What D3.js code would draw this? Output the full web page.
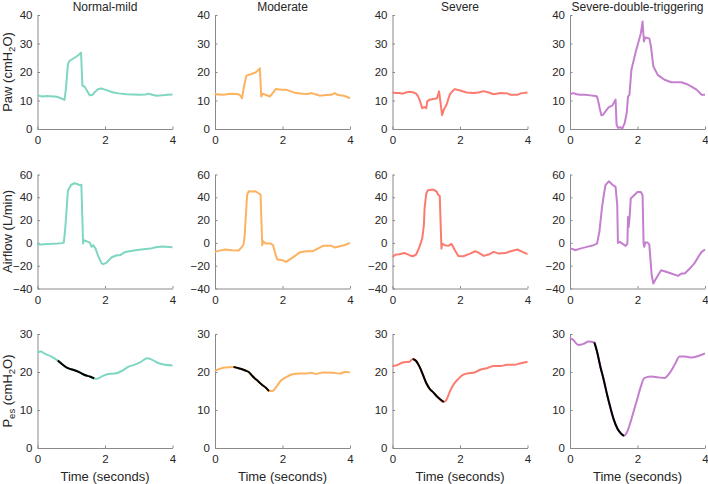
<!DOCTYPE html>
<html><head><meta charset="utf-8">
<script src="https://cdn.jsdelivr.net/npm/d3@7"></script>
<style>
body{margin:0;background:#fff;}
svg{display:block;font-family:"Liberation Sans",Arial,Helvetica,sans-serif;}
</style></head>
<body>
<svg id="chart" width="708" height="484"></svg>
<script>
const categories = ["Normal-mild","Moderate","Severe","Severe-double-triggering"];
const colors = ["#7fd6c3","#fdb260","#fb7b6f","#c57fcf"];
const xTicks = [0,2,4];
const pawTicks = [0,10,20,30,40];
const flowTicks = [-40,-20,0,20,40,60];
const pesTicks = [0,10,20,30];

const pawNormal = [[0,11.8],[0.08,11.6],[0.17,11.4],[0.27,11.6],[0.37,11.5],[0.5,11.4],[0.61,11.2],[0.71,10.7],[0.8,10.2],[0.84,14],[0.9,22.5],[0.93,23.7],[1.0,24.3],[1.1,25.0],[1.2,25.8],[1.29,26.8],[1.33,15.3],[1.4,14.8],[1.45,13.8],[1.55,11.8],[1.63,12.0],[1.7,13.0],[1.8,14.0],[1.9,14.2],[2.0,13.8],[2.25,12.8],[2.4,12.5],[2.64,12.2],[3.04,12.0],[3.2,12.1],[3.29,12.4],[3.4,12.0],[3.53,11.7],[3.7,11.8],[3.85,12.0],[4.0,12.1]];
const pawModerate = [[0,12.4],[0.05,12.1],[0.1,12.2],[0.2,12.0],[0.3,12.1],[0.4,12.3],[0.5,12.4],[0.6,12.3],[0.7,12.2],[0.76,11.6],[0.8,10.8],[0.86,15],[0.93,18.7],[1.0,19.0],[1.1,19.4],[1.2,19.8],[1.28,20.6],[1.33,21.3],[1.37,11.4],[1.42,12.4],[1.5,12.0],[1.63,11.4],[1.72,12.8],[1.8,14.0],[1.9,13.9],[2.0,13.8],[2.1,13.8],[2.25,13.2],[2.4,12.6],[2.6,12.4],[2.75,12.3],[2.85,12.6],[3.0,12.1],[3.1,11.7],[3.3,11.9],[3.45,12.0],[3.55,12.6],[3.65,11.9],[3.8,11.7],[3.9,11.3],[4.0,10.8]];
const pawSevere = [[0,12.8],[0.1,12.6],[0.2,12.6],[0.3,12.4],[0.4,12.8],[0.5,13.1],[0.6,12.9],[0.7,12.4],[0.75,11.6],[0.8,10.3],[0.85,8.5],[0.88,7.3],[0.95,7.7],[1.0,7.3],[1.03,9.7],[1.1,10.3],[1.25,10.6],[1.32,10.8],[1.38,13.2],[1.42,9.5],[1.47,4.9],[1.52,6.8],[1.6,8.5],[1.7,12.2],[1.78,13.3],[1.85,14.0],[2.0,13.5],[2.2,12.8],[2.4,12.6],[2.55,12.8],[2.7,13.3],[2.85,12.8],[3.0,12.2],[3.2,12.6],[3.4,12.5],[3.5,12.0],[3.7,12.0],[3.8,12.5],[4.0,12.8]];
const pawDouble = [[0,12.2],[0.1,12.6],[0.2,12.2],[0.3,12.0],[0.45,12.0],[0.6,11.8],[0.75,11.6],[0.8,11.4],[0.85,9.0],[0.88,7.3],[0.93,4.8],[0.98,5.0],[1.05,6.2],[1.15,7.7],[1.25,8.2],[1.35,10.3],[1.38,1.5],[1.42,0.4],[1.5,0.6],[1.55,0.1],[1.62,2.1],[1.68,5.6],[1.72,11.4],[1.76,12.0],[1.82,20.8],[1.95,27.2],[2.1,33.6],[2.15,37.7],[2.19,30.7],[2.23,32.1],[2.35,31.8],[2.4,28.9],[2.47,21.9],[2.6,19.0],[2.8,17.3],[3.0,16.4],[3.3,16.4],[3.45,15.8],[3.6,14.9],[3.75,13.8],[3.85,12.6],[3.9,12.0],[4.0,12.0]];

const flowNormal = [[0,-1.2],[0.1,-1.5],[0.2,-1.2],[0.3,-0.9],[0.45,-0.8],[0.6,-0.6],[0.72,-0.2],[0.78,0.3],[0.82,12],[0.85,24],[0.9,46],[1.0,51],[1.1,52.3],[1.2,51.4],[1.25,50.6],[1.3,51],[1.35,-0.6],[1.37,2.3],[1.45,1.5],[1.55,0.3],[1.6,-3.5],[1.65,-2],[1.72,-5],[1.8,-11.7],[1.9,-18],[1.95,-18.7],[2.05,-17.3],[2.2,-12.6],[2.35,-10.8],[2.45,-10.8],[2.6,-7.9],[2.9,-6.4],[3.2,-5.3],[3.35,-5.0],[3.5,-3.8],[3.7,-3.2],[4.0,-3.8]];
const flowModerate = [[0,-7.9],[0.1,-7.0],[0.3,-5.8],[0.5,-6.4],[0.7,-6.7],[0.8,-3.5],[0.85,-0.6],[0.88,6.7],[0.95,41.8],[1.0,45.3],[1.1,45.0],[1.2,45.3],[1.3,43.3],[1.35,42.4],[1.4,-2],[1.43,1.5],[1.5,-0.6],[1.65,-0.6],[1.72,-2],[1.8,-10.8],[1.85,-14.6],[2.0,-15.2],[2.1,-16.7],[2.3,-12.9],[2.5,-8.5],[2.7,-7.3],[2.9,-7.3],[3.0,-5.6],[3.2,-2.6],[3.45,-2.6],[3.55,-4.1],[3.7,-2.9],[3.85,-1.8],[4.0,0]];
const flowSevere = [[0,-12.3],[0.1,-10.2],[0.2,-9.9],[0.35,-8.8],[0.5,-10.8],[0.6,-11.7],[0.7,-10.2],[0.8,-3.5],[0.88,3.8],[0.93,15.5],[0.95,30],[1.0,43.3],[1.05,46.2],[1.2,46.8],[1.3,45.3],[1.35,42.4],[1.4,41.2],[1.45,-5],[1.47,-0.6],[1.55,-2],[1.65,-2.6],[1.75,-0.9],[1.85,-6.4],[1.95,-11.4],[2.1,-11.7],[2.3,-9.4],[2.45,-7.3],[2.55,-8.5],[2.7,-11.4],[2.85,-10.2],[3.0,-7.9],[3.15,-9.4],[3.35,-8.8],[3.5,-7.3],[3.7,-5.8],[3.85,-7.9],[4.0,-9.9]];
const flowDouble = [[0,-5],[0.1,-5.6],[0.15,-6.4],[0.3,-5],[0.5,-3.5],[0.7,-2],[0.8,-0.6],[0.87,9.6],[0.95,31.6],[1.0,41.8],[1.05,50.6],[1.15,54],[1.25,51.2],[1.35,49.1],[1.4,33],[1.42,0],[1.48,0.9],[1.55,-0.6],[1.65,-2.6],[1.7,-0.6],[1.72,22.8],[1.74,14],[1.77,24.3],[1.8,39],[1.9,41.8],[2.0,44.7],[2.1,44.7],[2.15,41.8],[2.18,-0.6],[2.2,-3.5],[2.23,0.3],[2.3,0.3],[2.35,-1.5],[2.42,-28.4],[2.47,-35.6],[2.55,-31.3],[2.7,-24],[2.8,-24.9],[3.0,-26.9],[3.2,-28.9],[3.3,-26.9],[3.4,-26.9],[3.55,-22.5],[3.7,-17.3],[3.8,-12.3],[3.9,-7.9],[4.0,-5.8]];

const pesNormal = [[0,25.1],[0.1,25.4],[0.2,24.9],[0.4,24.1],[0.6,23.0],[0.75,21.9],[0.9,21.0],[1.05,20.6],[1.25,19.9],[1.4,19.2],[1.55,18.8],[1.68,18.3],[1.75,18.2],[1.9,18.8],[2.1,19.5],[2.3,19.6],[2.5,20.3],[2.7,21.4],[2.9,22.0],[3.05,22.6],[3.25,23.6],[3.4,23.2],[3.6,22.3],[3.8,21.9],[4.0,21.7]];
const pesModerate = [[0,20.3],[0.1,20.7],[0.3,21.2],[0.55,21.3],[0.7,21.0],[0.9,20.4],[1.0,20.0],[1.1,19.0],[1.25,17.8],[1.4,16.6],[1.5,15.9],[1.6,15.0],[1.7,15.0],[1.8,15.9],[1.95,17.7],[2.1,18.6],[2.3,19.4],[2.5,19.6],[2.7,19.6],[2.85,19.8],[3.0,19.5],[3.2,19.9],[3.5,19.8],[3.7,19.6],[3.85,20.0],[4.0,19.9]];
const pesSevere = [[0,21.6],[0.1,21.7],[0.3,22.5],[0.5,22.7],[0.6,23.4],[0.7,22.9],[0.8,21.4],[0.9,19.3],[1.0,17.1],[1.1,15.6],[1.2,14.7],[1.35,13.3],[1.52,12.1],[1.6,12.7],[1.7,14.9],[1.8,16.6],[1.95,18.2],[2.1,19.3],[2.25,19.7],[2.4,19.8],[2.6,20.6],[2.8,21.0],[3.0,21.6],[3.2,21.6],[3.4,21.9],[3.6,21.9],[3.8,22.3],[4.0,22.7]];
const pesDouble = [[0,29.0],[0.1,28.4],[0.25,27.1],[0.4,27.4],[0.55,28.0],[0.72,27.8],[0.8,25.4],[0.9,21.4],[1.0,17.9],[1.1,14.0],[1.2,10.5],[1.3,7.4],[1.4,5.2],[1.5,3.9],[1.6,3.2],[1.7,4.4],[1.8,7.0],[1.9,10.1],[2.0,13.1],[2.1,16.2],[2.2,18.4],[2.4,18.8],[2.6,18.6],[2.8,18.4],[2.95,19.7],[3.1,21.9],[3.25,24.1],[3.4,24.1],[3.6,23.8],[3.8,24.2],[4.0,24.9]];

const blackStart = [0.6,0.55,0.6,0.72];
const blackEnd = [1.68,1.6,1.52,1.6];

const pawData = [pawNormal,pawModerate,pawSevere,pawDouble];
const flowData = [flowNormal,flowModerate,flowSevere,flowDouble];
const pesData = [pesNormal,pesModerate,pesSevere,pesDouble];

const svg = d3.select("#chart");
const colX = [37.5,215,392.5,570];
const rowY = [15,174.5,334];
const pw = 135, ph = 114;
const axisColor = "#8a8a8a", textColor = "#262626";

const rows = [
  {data:pawData, domain:[0,40], ticks:pawTicks, curve:d3.curveLinear},
  {data:flowData, domain:[-40,60], ticks:flowTicks, curve:d3.curveLinear},
  {data:pesData, domain:[0,30], ticks:pesTicks, curve:d3.curveMonotoneX}
];

const x = d3.scaleLinear().domain([0,4]).range([0,pw]);
const fmt = d3.format("d");

rows.forEach((row,ri)=>{
  const y = d3.scaleLinear().domain(row.domain).range([ph,0]);
  row.data.forEach((series,ci)=>{
    const g = svg.append("g").attr("transform",`translate(${colX[ci]},${rowY[ri]})`);
    const xa = g.append("g").attr("transform",`translate(0,${ph})`)
      .call(d3.axisBottom(x).tickValues(xTicks).tickFormat(fmt).tickSizeInner(-2.5).tickSizeOuter(0).tickPadding(7));
    const ya = g.append("g")
      .call(d3.axisLeft(y).tickValues(row.ticks).tickFormat(fmt).tickSizeInner(-2.5).tickSizeOuter(0).tickPadding(5));
    [xa,ya].forEach(a=>{
      a.select(".domain").attr("stroke",axisColor).attr("stroke-width",1);
      a.selectAll(".tick line").attr("stroke",axisColor);
      a.selectAll(".tick text").attr("fill",textColor).style("font-size","11.5px")
        .style("font-family","'Liberation Sans',Arial,sans-serif");
    });
    const line = d3.line().x(d=>x(d[0])).y(d=>y(d[1])).curve(row.curve);
    g.append("path").datum(series).attr("d",line)
      .attr("fill","none").attr("stroke",colors[ci]).attr("stroke-width",2)
      .attr("stroke-linejoin","round");
    if(ri===2){
      const seg = series.filter(d=>d[0]>=blackStart[ci]-1e-9 && d[0]<=blackEnd[ci]+1e-9);
      g.append("path").datum(seg).attr("d",line)
        .attr("fill","none").attr("stroke","#000").attr("stroke-width",2)
        .attr("stroke-linejoin","round");
      g.append("text").attr("x",pw/2).attr("y",ph+33).attr("text-anchor","middle")
        .attr("fill",textColor).style("font-size","13px").text("Time (seconds)");
    }
    if(ri===0){
      g.append("text").attr("x",pw/2).attr("y",-4).attr("text-anchor","middle")
        .attr("fill",textColor).style("font-size","12px").text(categories[ci]);
    }
  });
  const cy = rowY[ri]+ph/2;
  const t = svg.append("text").attr("transform",`translate(12,${cy}) rotate(-90)`)
    .attr("text-anchor","middle").attr("fill",textColor).style("font-size","13px");
  if(ri===0){
    t.append("tspan").text("Paw (cmH");
    t.append("tspan").text("2").attr("dy",3).style("font-size","9.5px");
    t.append("tspan").text("O)").attr("dy",-3);
  } else if(ri===1){
    t.text("Airflow (L/min)");
  } else {
    t.append("tspan").text("P");
    t.append("tspan").text("es").attr("dy",3).style("font-size","9.5px");
    t.append("tspan").text(" (cmH").attr("dy",-3);
    t.append("tspan").text("2").attr("dy",3).style("font-size","9.5px");
    t.append("tspan").text("O)").attr("dy",-3);
  }
});
</script>
</body></html>
